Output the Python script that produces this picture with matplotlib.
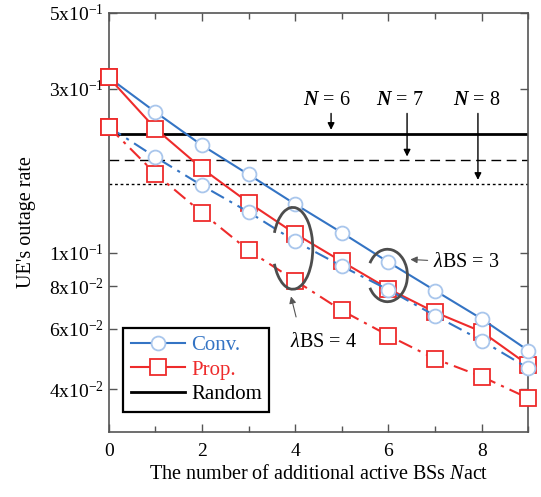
import numpy as np
import matplotlib
matplotlib.use('Agg')
import matplotlib.pyplot as plt
from matplotlib.patches import Arc

plt.rcParams['font.family'] = ['Liberation Serif', 'DejaVu Serif']
plt.rcParams['mathtext.fontset'] = 'custom'
plt.rcParams['mathtext.rm'] = 'Liberation Serif'
plt.rcParams['mathtext.it'] = 'Liberation Serif:italic'
plt.rcParams['mathtext.bf'] = 'Liberation Serif:italic:bold'

# ---- data ----
n_act = np.arange(10)
conv_l3 = [0.324, 0.257, 0.2056, 0.169, 0.1385, 0.1144, 0.0939, 0.0776, 0.0642, 0.0519]
prop_l3 = [0.324, 0.230, 0.176, 0.140, 0.1136, 0.0943, 0.0785, 0.0671, 0.0589, 0.0471]
conv_l4 = [0.2325, 0.190, 0.157, 0.1314, 0.108, 0.0914, 0.078, 0.0656, 0.0555, 0.0461]
prop_l4 = [0.2325, 0.170, 0.1308, 0.1016, 0.0830, 0.0679, 0.0574, 0.0491, 0.0436, 0.0377]
random_n = [6, 7, 8]
random_rate = [0.2224, 0.186, 0.159]
random_style = ['-', (0, (7, 4)), (0, (2, 2))]

yticks = [0.04, 0.06, 0.08, 0.1, 0.3, 0.5]
ytick_labels = [r'4x10$^{-2}$', r'6x10$^{-2}$', r'8x10$^{-2}$',
                r'1x10$^{-1}$', r'3x10$^{-1}$', r'5x10$^{-1}$']

BLUE = '#3474c4'
LBLUE = '#a9c6ec'
RED = '#ee2b2b'
YMIN, YMAX = 0.03, 0.5

fig = plt.figure(figsize=(5.41, 4.97), dpi=100)
ax = fig.add_axes([0.2009, 0.1302, 0.7756, 0.8442])
ax.set_yscale('log')

dashdot = (0, (7, 3, 1.5, 3))

# random baselines
for r, ls in zip(random_rate, random_style):
    ax.plot([0, 9], [r, r], color='black', linestyle=ls,
            linewidth=2.0 if ls == '-' else 1.0, zorder=2)

# proposed
sq = dict(marker='s', ms=11, mfc='white', mec=RED, mew=1.3, clip_on=False)
ci = dict(marker='o', ms=10, mfc='white', mec=LBLUE, mew=1.3, clip_on=False)
ax.plot(n_act, prop_l3, color=RED, lw=1.5, zorder=3, **sq)
ax.plot(n_act, prop_l4, color=RED, lw=1.5, ls=dashdot, zorder=3, **sq)
# conventional
ax.plot(n_act, conv_l3, color=BLUE, lw=1.5, markevery=list(range(1, 10)),
        zorder=4, **ci)
ax.plot(n_act, conv_l4, color=BLUE, lw=1.5, ls=dashdot,
        markevery=list(range(1, 10)), zorder=4, **ci)
ax.plot([0, 0], [prop_l3[0], prop_l4[0]], ls='none', zorder=5, **sq)

ax.set_xlim(0, 9)
ax.set_ylim(YMIN, YMAX)
ax.set_xticks([0, 2, 4, 6, 8])
ax.set_xticks([1, 3, 5, 7, 9], minor=True)
ax.set_yticks(yticks)
ax.set_yticklabels(ytick_labels)
ax.yaxis.set_minor_locator(plt.NullLocator())
ax.tick_params(axis='both', which='both', direction='in', labelsize=14,
               color='#555555', top=True, right=True)
ax.tick_params(which='major', length=6, width=1)
ax.tick_params(which='minor', length=4, width=1)
ax.tick_params(axis='x', pad=8)
for sp in ax.spines.values():
    sp.set_color('#555555')
    sp.set_linewidth(1.2)

ax.set_xlabel(r'The number of additional active BSs $\mathit{N}$act', fontsize=14.5, labelpad=3)
ax.set_ylabel("UE's outage rate", fontsize=14.5, labelpad=9)

# N annotations
n_text_x = [4.68, 6.25, 7.9]
n_arrow_x = [4.77, 6.40, 7.92]
for n, tx, axx, r in zip(random_n, n_text_x, n_arrow_x, random_rate):
    ax.text(tx, 0.278, r'$\mathbf{N}$ = %d' % n, fontsize=14.5,
            ha='center', va='center')
    ax.annotate('', xy=(axx, r * 1.025), xytext=(axx, 0.2545),
                arrowprops=dict(arrowstyle='-|>', color='black', lw=1.0,
                                mutation_scale=10, shrinkA=0, shrinkB=0))

# lambda ellipses (axes-fraction coordinates from data positions)
def frac(x, y):
    fy = (np.log10(y) - np.log10(YMIN)) / (np.log10(YMAX) - np.log10(YMIN))
    return x / 9, fy

cx, cy = frac(3.95, np.sqrt(prop_l3[4] * conv_l4[4]) * 0.93)
ax.add_patch(Arc((cx, cy), 0.095, 0.195, theta1=-140, theta2=140,
                 transform=ax.transAxes, color='#4d4d4d', lw=2.0, zorder=6))
cx, cy = frac(5.98, np.sqrt(conv_l3[6] * prop_l3[6]))
ax.add_patch(Arc((cx, cy), 0.095, 0.125, theta1=-145, theta2=145,
                 transform=ax.transAxes, color='#4d4d4d', lw=2.0, zorder=6))

ax.annotate(r'$\lambda$BS = 3', xy=(6.47, 0.0956), xytext=(6.96, 0.0937),
            fontsize=14.5, ha='left', va='center',
            arrowprops=dict(arrowstyle='-|>', color='#555555', lw=0.8,
                            mutation_scale=10, shrinkA=2, shrinkB=0))
ax.annotate(r'$\lambda$BS = 4', xy=(3.91, 0.0746), xytext=(3.89, 0.0547),
            fontsize=14.5, ha='left', va='center',
            arrowprops=dict(arrowstyle='-|>', color='#555555', lw=0.8,
                            mutation_scale=10, shrinkA=10, shrinkB=0,
                            relpos=(0.15, 1.0)))

# legend
h_conv, = ax.plot([], [], color=BLUE, lw=1.5, marker='o', ms=10,
                  mfc='white', mec=LBLUE, mew=1.3)
h_prop, = ax.plot([], [], color=RED, lw=1.5, marker='s', ms=11,
                  mfc='white', mec=RED, mew=1.3)
h_rand, = ax.plot([], [], color='black', lw=2.0)
leg = ax.legend([h_conv, h_prop, h_rand], ['Conv.', 'Prop.', 'Random'],
                loc='lower left', bbox_to_anchor=(0.035, 0.049), borderaxespad=0,
                fontsize=15, handlelength=2.6, handletextpad=0.3,
                labelspacing=0.25, borderpad=0.35, fancybox=False, framealpha=1)
leg.get_frame().set_edgecolor('black')
leg.get_frame().set_linewidth(1.6)
for t, c in zip(leg.get_texts(), [BLUE, RED, 'black']):
    t.set_color(c)
leg.set_zorder(10)

fig.savefig('out.png', dpi=100)
